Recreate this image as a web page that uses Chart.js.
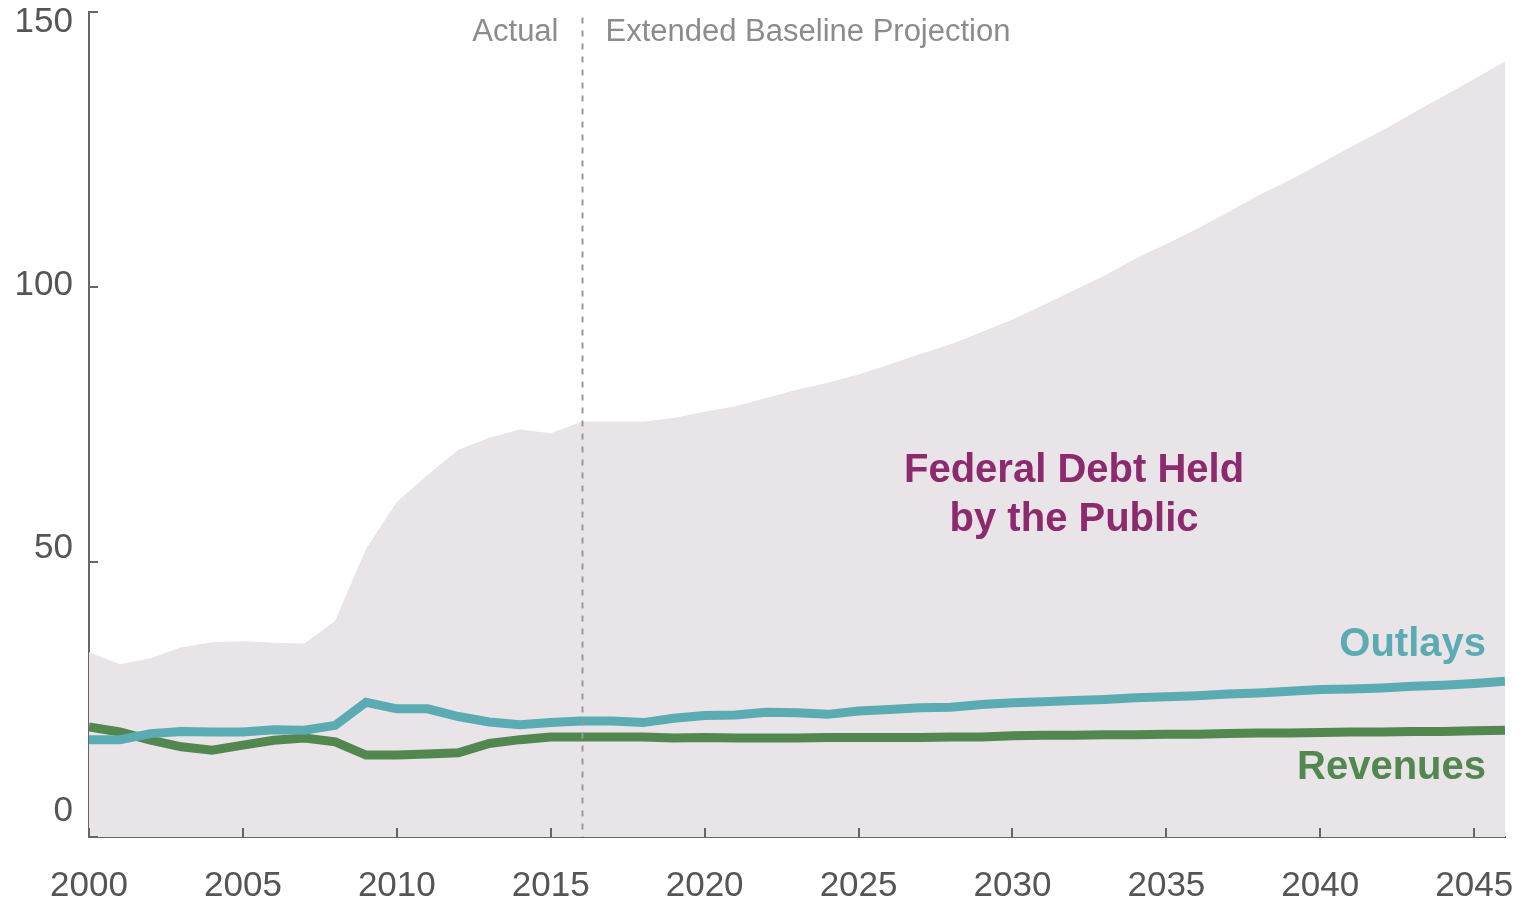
<!DOCTYPE html>
<html>
<head>
<meta charset="utf-8">
<title>Federal Debt, Outlays and Revenues</title>
<script src="https://cdn.jsdelivr.net/npm/chart.js@4/dist/chart.umd.min.js"></script>
<style>
  html, body { margin: 0; padding: 0; background: #ffffff; }
  #wrap { width: 1527px; height: 904px; }
</style>
</head>
<body>
<div id="wrap"><canvas id="debtChart" width="1527" height="904"></canvas></div>
<script>
// percent of GDP
const years = [
  2000, 2001, 2002, 2003, 2004, 2005, 2006, 2007, 2008, 2009,
  2010, 2011, 2012, 2013, 2014, 2015, 2016, 2017, 2018, 2019,
  2020, 2021, 2022, 2023, 2024, 2025, 2026, 2027, 2028, 2029,
  2030, 2031, 2032, 2033, 2034, 2035, 2036, 2037, 2038, 2039,
  2040, 2041, 2042, 2043, 2044, 2045, 2046,
];

const debtHeld = [
  33.6, 31.4, 32.5, 34.5, 35.4, 35.6, 35.3, 35.2, 39.3, 52.4,
  60.9, 65.8, 70.4, 72.6, 74.1, 73.4, 75.5, 75.5, 75.5, 76.2,
  77.3, 78.3, 79.8, 81.3, 82.6, 84.1, 85.9, 87.8, 89.6, 91.8,
  94.1, 96.7, 99.4, 102.1, 105.2, 107.8, 110.6, 113.6, 116.7, 119.4,
  122.4, 125.5, 128.4, 131.6, 134.7, 137.8, 141.0,
];

const outlays = [
  17.7, 17.7, 18.8, 19.2, 19.1, 19.1, 19.5, 19.4, 20.3, 24.5,
  23.3, 23.3, 21.9, 20.9, 20.4, 20.8, 21.1, 21.1, 20.8, 21.6,
  22.1, 22.2, 22.7, 22.6, 22.3, 22.9, 23.2, 23.5, 23.6, 24.1,
  24.4, 24.6, 24.8, 25.0, 25.3, 25.5, 25.7, 26.0, 26.2, 26.5,
  26.8, 26.9, 27.1, 27.4, 27.6, 27.9, 28.3,
];

const revenues = [
  20.0, 19.1, 17.6, 16.4, 15.8, 16.7, 17.6, 18.0, 17.3, 14.9,
  14.9, 15.1, 15.3, 17.0, 17.7, 18.2, 18.2, 18.2, 18.2, 18.0,
  18.1, 18.0, 18.0, 18.0, 18.1, 18.1, 18.1, 18.1, 18.2, 18.2,
  18.4, 18.5, 18.5, 18.6, 18.6, 18.7, 18.7, 18.8, 18.9, 18.9,
  19.0, 19.1, 19.1, 19.2, 19.2, 19.3, 19.4,
];

const xTicks = [2000, 2005, 2010, 2015, 2020, 2025, 2030, 2035, 2040, 2045];
const yTicks = [0, 50, 100, 150];
const splitYear = 2016;

const AXIS_GREY = "#666666";
const TICK_TEXT = "#555555";
const NOTE_GREY = "#8c8c8c";
const FONT = "'Liberation Sans', Arial, sans-serif";

function points(values) {
  return years.map((yr, i) => ({ x: yr, y: values[i] }));
}

// keep label overhang from shrinking the plot area
function noOverhang(scale) {
  scale.paddingLeft = 0;
  scale.paddingRight = 0;
  scale.paddingTop = 0;
  scale.paddingBottom = 0;
}

// ticks pointing into the plot, dashed split line and the text labels
const decorations = {
  id: "decorations",
  afterDraw(chart) {
    const { ctx, chartArea, scales } = chart;
    const x = scales.x;
    const y = scales.y;

    ctx.save();

    ctx.strokeStyle = AXIS_GREY;
    ctx.lineWidth = 2;
    ctx.beginPath();
    xTicks.forEach((v) => {
      const px = Math.round(x.getPixelForValue(v));
      ctx.moveTo(px, chartArea.bottom);
      ctx.lineTo(px, chartArea.bottom - 9);
    });
    yTicks.forEach((v) => {
      const py = Math.round(y.getPixelForValue(v));
      ctx.moveTo(chartArea.left, py);
      ctx.lineTo(chartArea.left + 9, py);
    });
    ctx.stroke();

    const sx = Math.round(x.getPixelForValue(splitYear)) + 0.5;
    ctx.strokeStyle = "#999999";
    ctx.lineWidth = 2;
    ctx.setLineDash([6, 7]);
    ctx.beginPath();
    ctx.moveTo(sx, y.getPixelForValue(149));
    ctx.lineTo(sx, chartArea.bottom);
    ctx.stroke();
    ctx.setLineDash([]);

    ctx.font = "31px " + FONT;
    ctx.fillStyle = NOTE_GREY;
    ctx.textBaseline = "alphabetic";
    ctx.textAlign = "right";
    ctx.fillText("Actual", sx - 24, 41);
    ctx.textAlign = "left";
    ctx.fillText("Extended Baseline Projection", sx + 23, 41);

    ctx.font = "bold 40px " + FONT;
    ctx.textAlign = "center";
    ctx.fillStyle = "#8b2a6c";
    const cx = x.getPixelForValue(2032);
    ctx.fillText("Federal Debt Held", cx, y.getPixelForValue(64.5));
    ctx.fillText("by the Public", cx, y.getPixelForValue(55.6));

    ctx.textAlign = "right";
    ctx.fillStyle = "#5babb2";
    ctx.fillText("Outlays", chartArea.right - 19, y.getPixelForValue(33));
    ctx.fillStyle = "#52874f";
    ctx.fillText("Revenues", chartArea.right - 19, y.getPixelForValue(10.6));

    ctx.restore();
  },
};

const ctx = document.getElementById("debtChart");

new Chart(ctx, {
  type: "line",

  data: {
    datasets: [
      {
        label: "Outlays",
        data: points(outlays),
        borderColor: "#5babb2",
        borderWidth: 9,
        pointRadius: 0,
        tension: 0,
        fill: false,
        order: 1,
      },
      {
        label: "Revenues",
        data: points(revenues),
        borderColor: "#52874f",
        borderWidth: 9,
        pointRadius: 0,
        tension: 0,
        fill: false,
        order: 2,
      },
      {
        label: "Federal Debt Held by the Public",
        data: points(debtHeld),
        borderWidth: 0,
        borderColor: "rgba(0,0,0,0)",
        backgroundColor: "#e8e4e8",
        pointRadius: 0,
        tension: 0,
        fill: "origin",
        order: 3,
      },
    ],
  },

  options: {
    responsive: false,
    animation: false,
    layout: { padding: { top: 12, right: 22, left: 0, bottom: 0 } },
    plugins: {
      legend: { display: false },
      tooltip: { enabled: false },
    },
    scales: {
      x: {
        type: "linear",
        min: 2000,
        max: 2046,
        z: 1,
        afterBuildTicks: (scale) => {
          scale.ticks = xTicks.map((v) => ({ value: v }));
        },
        afterFit: (scale) => {
          scale.height = 67;
          noOverhang(scale);
        },
        grid: { display: false, drawTicks: false },
        border: { display: true, color: AXIS_GREY, width: 2 },
        ticks: {
          autoSkip: false,
          maxRotation: 0,
          padding: 28,
          color: TICK_TEXT,
          font: { family: FONT, size: 35 },
          callback: (v) => String(v),
        },
      },
      // data axis, 0 to 150; its line and labels come from yLabels
      y: {
        type: "linear",
        min: 0,
        max: 150,
        display: false,
      },
      // the value labels sit a little off their tick marks in the original
      yLabels: {
        type: "linear",
        position: "left",
        min: -4.94,
        max: 151.9,
        z: 1,
        afterBuildTicks: (scale) => {
          scale.ticks = yTicks.map((v) => ({ value: v }));
        },
        afterFit: (scale) => {
          scale.width = 89;
          noOverhang(scale);
        },
        grid: { display: false, drawTicks: false },
        border: { display: true, color: AXIS_GREY, width: 2 },
        ticks: {
          padding: 16,
          color: TICK_TEXT,
          font: { family: FONT, size: 35 },
        },
      },
    },
  },

  plugins: [decorations],
});
</script>
</body>
</html>
